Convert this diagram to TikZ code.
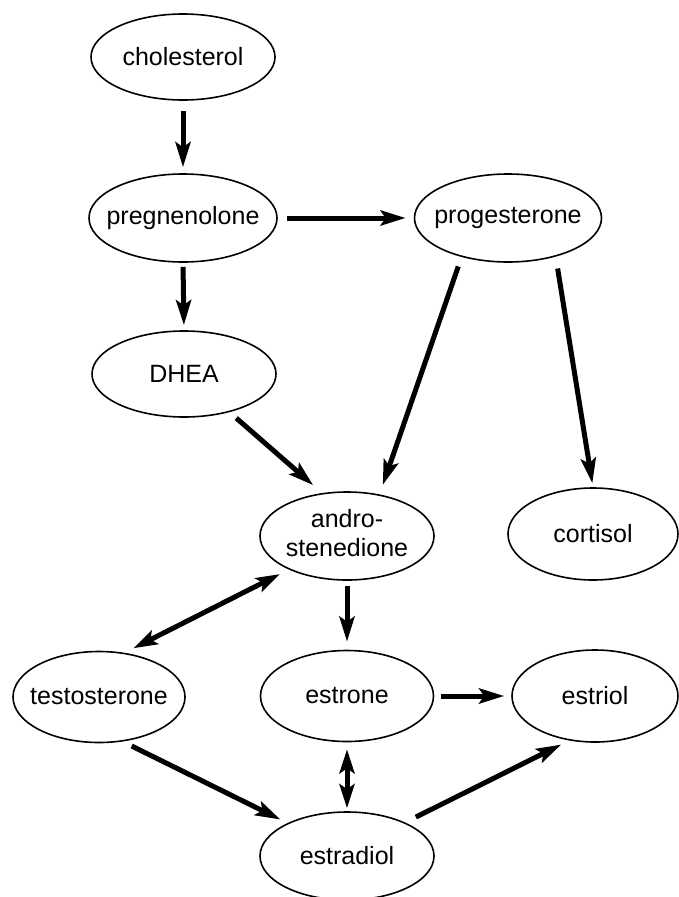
\documentclass[tikz,border=0pt]{standalone}
\usepackage{fontspec}
\setmainfont{Liberation Sans}
\usetikzlibrary{arrows.meta,shapes.geometric}
\newcommand\cmpd[1]{\makebox[0pt]{#1}}
\begin{document}
\begin{tikzpicture}[x=1pt,y=-1pt,
  compound/.style={ellipse, draw, line width=1.6pt, inner sep=0pt,
    font=\fontsize{25}{29}\selectfont},
  react/.style={line width=5pt, -{Stealth[length=25pt,width=15pt,inset=5pt]}},
  dreact/.style={line width=5pt, {Stealth[length=24pt,width=15pt,inset=5pt]}-{Stealth[length=24pt,width=15pt,inset=5pt]}}]
\useasboundingbox (0,0) rectangle (679,897);

\node[compound, minimum width=184pt, minimum height=86pt] (chol) at (183,57) {\cmpd{cholesterol}};
\node[compound, minimum width=188pt, minimum height=88pt] (preg) at (183,218) {\cmpd{pregnenolone}};
\node[compound, minimum width=187pt, minimum height=88pt] (prog) at (508,218) {\cmpd{progesterone}};
\node[compound, minimum width=184pt, minimum height=86pt] (dhea) at (184,374) {\cmpd{DHEA}};
\node[compound, minimum width=174pt, minimum height=88pt] (andro) at (347,536) {\cmpd{\begin{tabular}{@{}c@{}}andro-\\stenedione\end{tabular}}};
\node[compound, minimum width=170pt, minimum height=92pt] (cort) at (593,534) {\cmpd{cortisol}};
\node[compound, minimum width=172pt, minimum height=91pt] (test) at (99,697) {\cmpd{testosterone}};
\node[compound, minimum width=173pt, minimum height=91pt] (estrone) at (347,696) {\cmpd{estrone}};
\node[compound, minimum width=166pt, minimum height=92pt] (estriol) at (595,696) {\cmpd{estriol}};
\node[compound, minimum width=174pt, minimum height=88pt] (estradiol) at (347,856) {\cmpd{estradiol}};

\draw[react, shorten <=10pt, shorten >=6pt] (chol.south) -- (preg.north);
\draw[react, shorten <=9pt, shorten >=8pt] (preg.east) -- (prog.west);
\draw[react, shorten <=4pt, shorten >=5pt] (preg.south) -- (dhea.north);
\draw[react, shorten <=9pt, shorten >=12pt] (dhea.-40) -- (andro.120);
\draw[react, shorten <=10pt, shorten >=10pt] (prog.220) -- (andro.52);
\draw[react, shorten <=12pt, shorten >=4pt] (prog.-39) -- (cort.north);
\draw[react, shorten <=5pt, shorten >=8pt] (andro.south) -- (estrone.north);
\draw[dreact, shorten <=10pt, shorten >=10pt] (andro.210) -- (test.60);
\draw[react, shorten <=7pt, shorten >=7pt] (estrone.east) -- (estriol.west);
\draw[react, shorten <=10pt, shorten >=8pt] (test.-62) -- (estradiol.151);
\draw[dreact, shorten <=7pt, shorten >=3pt] (estrone.south) -- (estradiol.north);
\draw[react, shorten <=12pt, shorten >=9pt] (estradiol.30) -- (estriol.240);
\end{tikzpicture}
\end{document}
